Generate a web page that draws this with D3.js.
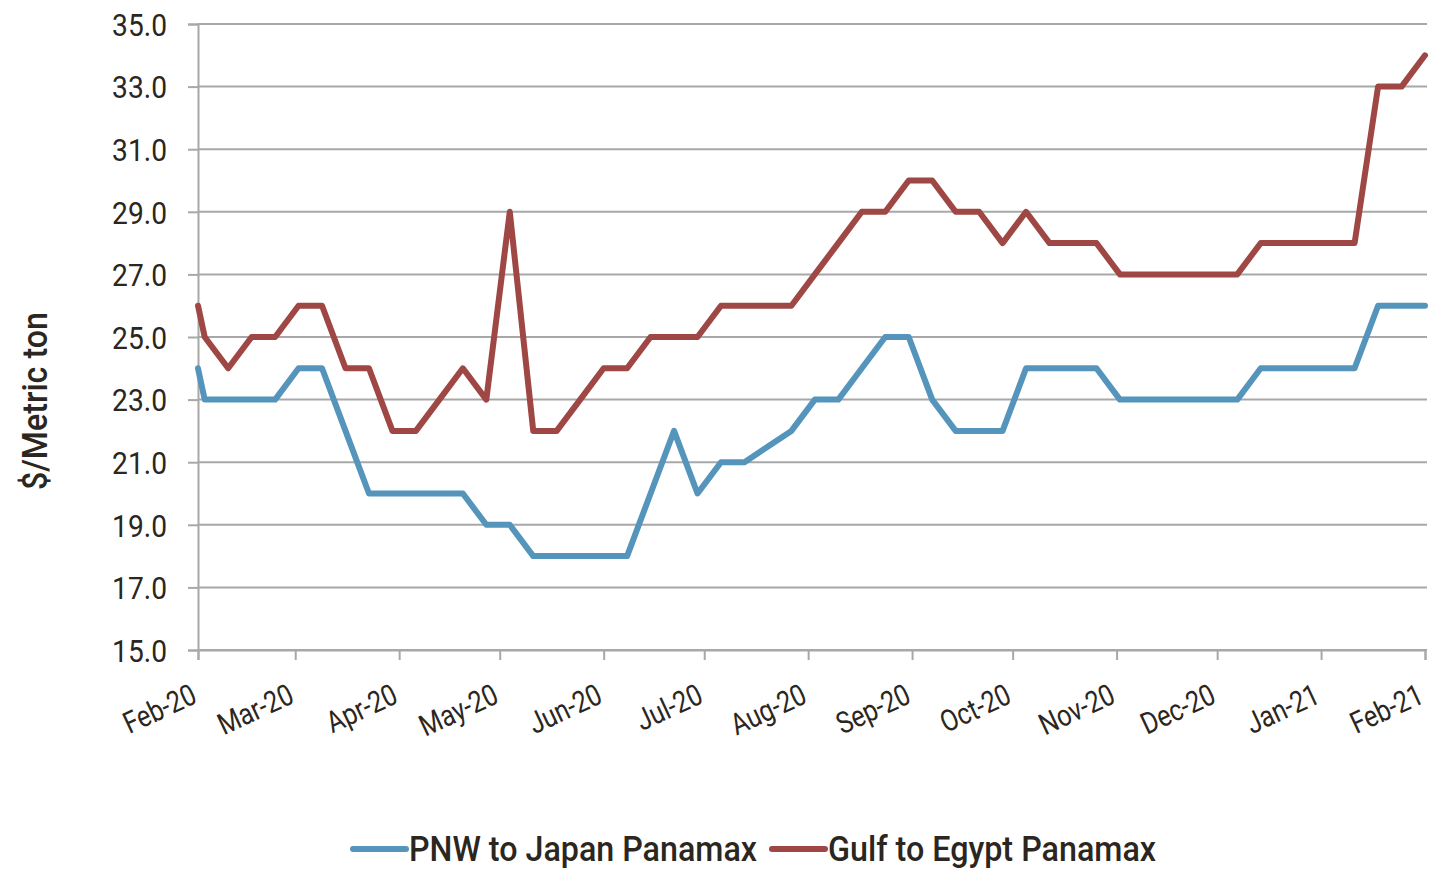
<!DOCTYPE html>
<html>
<head>
<meta charset="utf-8">
<script src="https://cdn.jsdelivr.net/npm/d3@7"></script>
<style>
  html, body { margin: 0; padding: 0; background: #ffffff; }
  svg { display: block; }
  text { font-family: "Roboto", "Liberation Sans", sans-serif; }
</style>
</head>
<body>
<svg id="chart" width="1433" height="870"></svg>
<script>
// Weekly ocean freight rates, $/metric ton
const dates = [
  "2020-02-01",
  "2020-02-03", "2020-02-10", "2020-02-17", "2020-02-24",
  "2020-03-02", "2020-03-09", "2020-03-16", "2020-03-23", "2020-03-30",
  "2020-04-06", "2020-04-13", "2020-04-20", "2020-04-27",
  "2020-05-04", "2020-05-11", "2020-05-18", "2020-05-25",
  "2020-06-01", "2020-06-08", "2020-06-15", "2020-06-22", "2020-06-29",
  "2020-07-06", "2020-07-13", "2020-07-20", "2020-07-27",
  "2020-08-03", "2020-08-10", "2020-08-17", "2020-08-24", "2020-08-31",
  "2020-09-07", "2020-09-14", "2020-09-21", "2020-09-28",
  "2020-10-05", "2020-10-12", "2020-10-19", "2020-10-26",
  "2020-11-02", "2020-11-09", "2020-11-16", "2020-11-23", "2020-11-30",
  "2020-12-07", "2020-12-14", "2020-12-21", "2020-12-28",
  "2021-01-04", "2021-01-11", "2021-01-18", "2021-01-25",
  "2021-02-01"
];

const pnwJapan = [
  24,
  23, 23, 23, 23,
  24, 24, 22, 20, 20,
  20, 20, 20, 19,
  19, 18, 18, 18,
  18, 18, 20, 22, 20,
  21, 21, 21.5, 22,
  23, 23, 24, 25, 25,
  23, 22, 22, 22,
  24, 24, 24, 24,
  23, 23, 23, 23, 23,
  23, 24, 24, 24,
  24, 24, 26, 26,
  26
];

const gulfEgypt = [
  26,
  25, 24, 25, 25,
  26, 26, 24, 24, 22,
  22, 23, 24, 23,
  29, 22, 22, 23,
  24, 24, 25, 25, 25,
  26, 26, 26, 26,
  27, 28, 29, 29, 30,
  30, 29, 29, 28,
  29, 28, 28, 28,
  27, 27, 27, 27, 27,
  27, 28, 28, 28,
  28, 28, 33, 33,
  34
];

const seriesNames = ["PNW to Japan Panamax", "Gulf to Egypt Panamax"];
const seriesColors = ["#5595bc", "#9f4744"];
const yTicks = [15, 17, 19, 21, 23, 25, 27, 29, 31, 33, 35];
const yTitle = "$/Metric ton";

const parse = d3.timeParse("%Y-%m-%d");
const series = [pnwJapan, gulfEgypt].map((vals, k) => ({
  name: seriesNames[k],
  color: seriesColors[k],
  points: vals.map((v, i) => ({ date: parse(dates[i]), value: v }))
}));

const svg = d3.select("#chart");
const textColor = "#2b2620";
const gridColor = "#a8a8a8";

const plot = { left: 198, right: 1425, top: 24, bottom: 650 };

const x = d3.scaleTime()
  .domain([parse("2020-02-01"), parse("2021-02-01")])
  .range([plot.left, plot.right]);
const y = d3.scaleLinear().domain([15, 35]).range([plot.bottom, plot.top]);

// horizontal gridlines
svg.append("g")
  .selectAll("line")
  .data(yTicks)
  .join("line")
  .attr("x1", plot.left).attr("x2", plot.right + 2)
  .attr("y1", d => y(d)).attr("y2", d => y(d))
  .attr("stroke", gridColor).attr("stroke-width", 2);

// y axis (narrow labels: horizontally compressed Roboto)
const yAxis = svg.append("g")
  .attr("transform", `translate(${plot.left},0)`)
  .call(d3.axisLeft(y).tickValues(yTicks).tickFormat(d3.format(".1f")).tickSize(10));
yAxis.select(".domain").attr("stroke", gridColor).attr("stroke-width", 2);
yAxis.selectAll(".tick line").attr("stroke", gridColor).attr("stroke-width", 2);
yAxis.selectAll("text")
  .attr("fill", textColor)
  .attr("x", 0)
  .attr("dy", "0.35em")
  .attr("transform", "translate(-31,0) scale(0.88,1)")
  .style("font-size", "32px");

// x axis
const xAxis = svg.append("g")
  .attr("transform", `translate(0,${plot.bottom})`)
  .call(d3.axisBottom(x).ticks(d3.timeMonth.every(1)).tickFormat(d3.timeFormat("%b-%y")).tickSize(10));
xAxis.select(".domain").attr("stroke", gridColor).attr("stroke-width", 2);
xAxis.selectAll(".tick line").attr("stroke", gridColor).attr("stroke-width", 2);
xAxis.selectAll("text")
  .attr("fill", textColor)
  .style("font-size", "30px")
  .attr("text-anchor", "end")
  .attr("dy", null)
  .attr("y", 0)
  .attr("transform", "translate(0,52) rotate(-25) scale(0.84,1)");

// y axis title
svg.append("text")
  .attr("transform", `translate(47,${(plot.top + plot.bottom) / 2 + 64}) rotate(-90)`)
  .attr("text-anchor", "middle")
  .attr("fill", textColor)
  .style("font-size", "35px")
  .style("font-weight", "500")
  .attr("textLength", 178)
  .attr("lengthAdjust", "spacingAndGlyphs")
  .text(yTitle);

// series lines
const line = d3.line().x(d => x(d.date)).y(d => y(d.value));
svg.append("g")
  .selectAll("path")
  .data(series)
  .join("path")
  .attr("d", d => line(d.points))
  .attr("fill", "none")
  .attr("stroke", d => d.color)
  .attr("stroke-width", 6)
  .attr("stroke-linejoin", "round")
  .attr("stroke-linecap", "round");

// legend
const legendY = 849;
const legendItems = [
  { x1: 353, x2: 406, tx: 409, tw: 348 },
  { x1: 772, x2: 825, tx: 828, tw: 328 }
];
const legend = svg.append("g");
series.forEach((s, i) => {
  const it = legendItems[i];
  legend.append("line")
    .attr("x1", it.x1).attr("x2", it.x2)
    .attr("y1", legendY).attr("y2", legendY)
    .attr("stroke", s.color).attr("stroke-width", 6)
    .attr("stroke-linecap", "round");
  legend.append("text")
    .attr("x", it.tx).attr("y", legendY + 12)
    .attr("fill", textColor)
    .style("font-size", "35px")
    .style("font-weight", "500")
    .attr("textLength", it.tw)
    .attr("lengthAdjust", "spacingAndGlyphs")
    .text(s.name);
});
</script>
</body>
</html>
